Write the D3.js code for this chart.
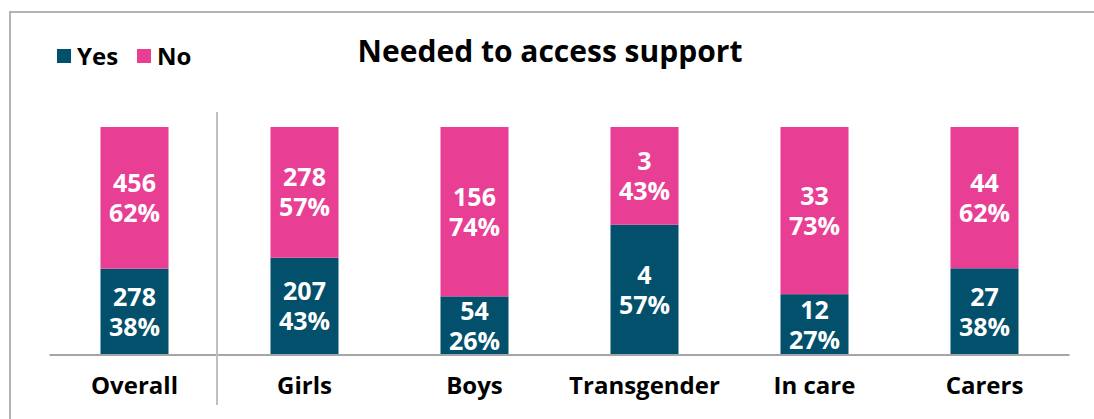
<!DOCTYPE html>
<html><head><meta charset="utf-8">
<script src="https://cdn.jsdelivr.net/npm/d3@7"></script>
<style>body{margin:0;background:#fff}svg{display:block}text{font-family:"Open Sans",sans-serif}</style>
</head><body><svg id="c" width="1094" height="419"></svg>
<script>
const categories = ["Overall","Girls","Boys","Transgender","In care","Carers"];
const yesValues = [278,207,54,4,12,27];
const noValues = [456,278,156,3,33,44];
const yesPct = ["38%","43%","26%","57%","27%","38%"];
const noPct = ["62%","57%","74%","43%","73%","62%"];
const seriesNames = ["Yes","No"];
const colors = {Yes:"#02506B", No:"#E83F95"};

const svg = d3.select("#c");
svg.append("path").attr("d","M10,419 V12 H1094").attr("fill","none").attr("stroke","#b3b3b3").attr("stroke-width",2);

const x = d3.scaleBand().domain(categories).range([49.5,1069.5]).paddingInner(0.6).paddingOuter(0.3);
const y = d3.scaleLinear().domain([0,1]).range([355,127]);

const data = categories.map((c,i)=>({cat:c, Yes:yesValues[i]/(yesValues[i]+noValues[i]), No:noValues[i]/(yesValues[i]+noValues[i]), i}));
const stack = d3.stack().keys(seriesNames)(data);

const g = svg.append("g");
stack.forEach(layer=>{
  g.selectAll(null).data(layer).enter().append("rect")
    .attr("x",d=>x(d.data.cat)).attr("width",x.bandwidth())
    .attr("y",d=>y(d[1])).attr("height",d=>y(d[0])-y(d[1]))
    .attr("fill",colors[layer.key]);
  layer.forEach(d=>{
    const i=d.data.i;
    const cy=(y(d[0])+y(d[1]))/2;
    const cx=x(d.data.cat)+x.bandwidth()/2;
    const v = layer.key==="Yes"?yesValues[i]:noValues[i];
    const p = layer.key==="Yes"?yesPct[i]:noPct[i];
    const t=g.append("text").attr("text-anchor","middle").attr("fill","#fff").attr("font-weight","bold").attr("font-size",25);
    t.append("tspan").attr("x",cx).attr("y",cy-15+9).text(v);
    t.append("tspan").attr("x",cx).attr("y",cy+15+9).text(p);
  });
});

const xAxis = d3.axisBottom(x).tickSize(0).tickPadding(22);
const ax = svg.append("g").attr("transform","translate(0,355)").call(xAxis);
ax.select(".domain").attr("stroke","#a6a6a6").attr("stroke-width",2).attr("d","M49.5,0H1069.5");
ax.selectAll("text").attr("font-size",24).attr("font-weight","bold").attr("fill","#000").attr("font-family","Open Sans");

svg.append("line").attr("x1",217).attr("x2",217).attr("y1",112).attr("y2",405).attr("stroke","#bfbfbf").attr("stroke-width",2);

svg.append("text").attr("x",550).attr("y",62).attr("text-anchor","middle").attr("font-size",30).attr("font-weight","bold").attr("fill","#000").text("Needed to access support");

const leg = svg.append("g");
seriesNames.forEach((s,k)=>{
  const lx=[57,137][k];
  leg.append("rect").attr("x",lx).attr("y",49).attr("width",14).attr("height",14).attr("fill",colors[s]);
  leg.append("text").attr("x",lx+20).attr("y",65).attr("font-size",24).attr("font-weight","bold").attr("fill","#000").text(s);
});
</script></body></html>
